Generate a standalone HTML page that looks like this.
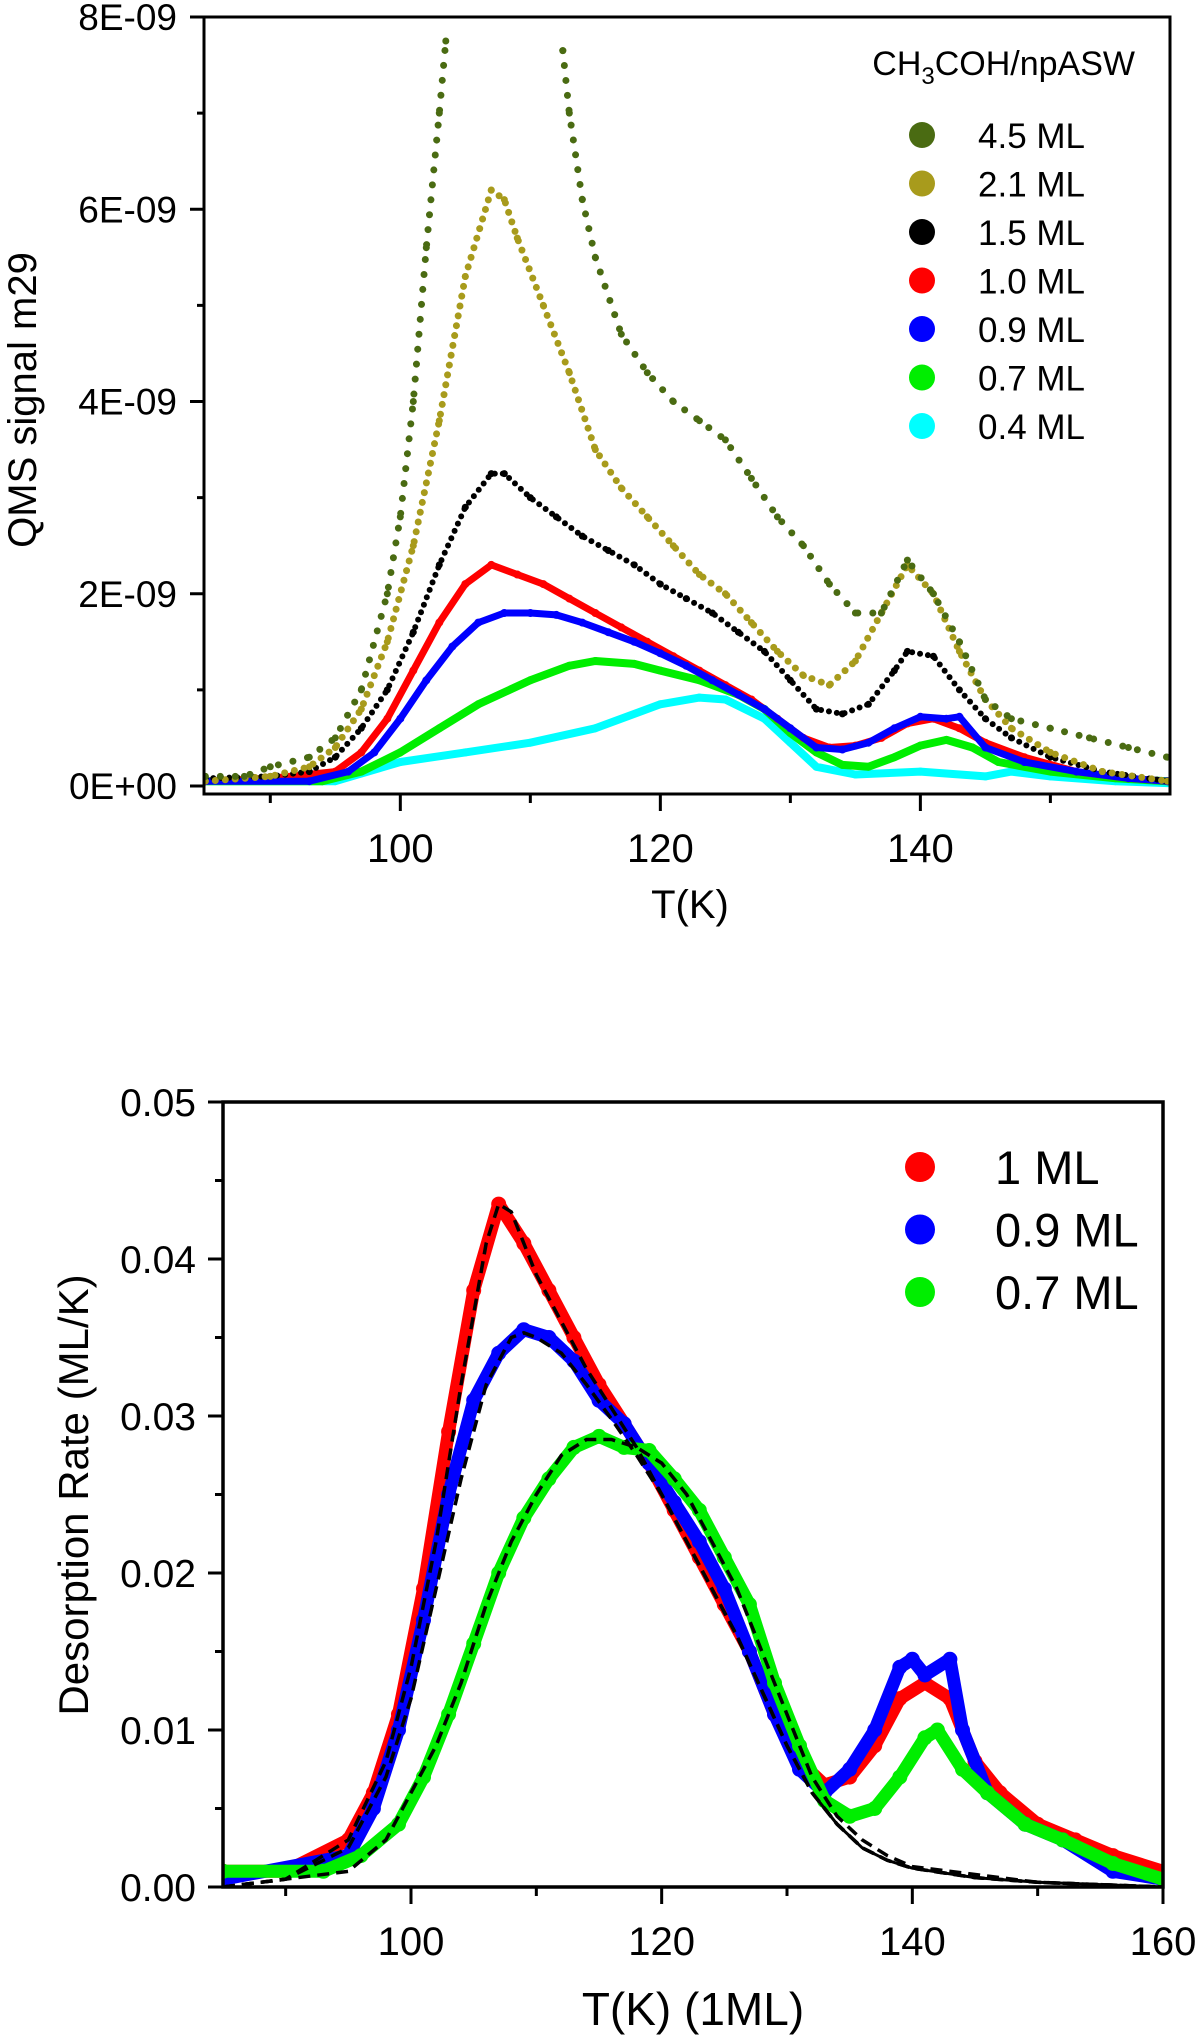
<!DOCTYPE html>
<html><head><meta charset="utf-8"><style>
html,body{margin:0;padding:0;background:#fff}
svg{display:block;font-family:"Liberation Sans",Arial,sans-serif}
</style></head><body>
<svg id="fig" width="1200" height="2036" viewBox="0 0 1200 2036">
<g id="topchart"></g>
<g id="botchart"></g>
</svg>
<script>
// ---------- TOP CHART DATA (QMS signal, units of 1E-9) ----------
const topNames = ["4.5 ML","2.1 ML","1.5 ML","1.0 ML","0.9 ML","0.7 ML","0.4 ML"];
const topColors = ["#4a6b12","#a89b1c","#000000","#ff0000","#0000ff","#00ee00","#00ffff"];
const t45 = [85,88,90,93,95,97,99,100,101,102,103,103.5];
const v45 = [0.1,0.1,0.2,0.3,0.5,1.0,2.0,2.8,4.0,5.6,7.0,7.75];
const t45b = [112.5,113,114,115,117,119,121,123,125,127,129,131,133,135,137,139,141,143,145,147,150,153,156,159];
const v45b = [7.65,7.0,6.1,5.5,4.7,4.3,4.0,3.8,3.6,3.2,2.8,2.5,2.1,1.8,1.8,2.35,2.0,1.5,0.9,0.7,0.6,0.5,0.4,0.3];
const t21 = [85,90,93,95,97,99,101,103,105,107,108,109,111,113,115,117,119,121,123,125,127,129,131,133,135,137,139,141,143,145,147,150,154,159];
const v21 = [0.05,0.1,0.2,0.4,0.8,1.5,2.5,3.8,5.3,6.2,6.1,5.7,5.0,4.3,3.5,3.1,2.8,2.5,2.2,2.0,1.7,1.4,1.15,1.05,1.3,1.8,2.3,2.0,1.4,0.9,0.6,0.35,0.15,0.05];
const t15 = [85,90,93,95,97,99,101,103,105,107,108,110,112,114,116,118,120,122,124,126,128,130,132,134,136,138,139,141,143,145,147,150,154,159];
const v15 = [0.08,0.1,0.15,0.3,0.6,1.0,1.6,2.3,2.9,3.25,3.25,3.0,2.8,2.6,2.45,2.3,2.1,1.95,1.8,1.6,1.4,1.1,0.8,0.75,0.85,1.2,1.4,1.35,1.0,0.7,0.5,0.3,0.15,0.05];
const t10 = [85,90,95,97,99,101,103,105,107,109,111,113,115,117,119,121,123,125,127,129,131,133,135,137,139,141,143,145,148,152,156,159];
const v10 = [0.05,0.08,0.15,0.35,0.7,1.2,1.7,2.1,2.3,2.2,2.1,1.95,1.8,1.65,1.5,1.35,1.2,1.05,0.9,0.7,0.5,0.4,0.42,0.5,0.65,0.7,0.6,0.45,0.3,0.15,0.08,0.05];
const t09 = [85,93,96,98,100,102,104,106,108,110,112,114,116,118,120,122,124,126,128,130,132,134,136,138,140,142,143,145,148,152,156,159];
const v09 = [0.05,0.05,0.15,0.35,0.7,1.1,1.45,1.7,1.8,1.8,1.78,1.7,1.6,1.5,1.38,1.25,1.1,0.95,0.8,0.6,0.4,0.38,0.45,0.6,0.72,0.7,0.72,0.4,0.25,0.15,0.08,0.05];
const t07 = [85,94,97,100,103,106,110,113,115,118,120,123,126,128,130,132,134,136,138,140,142,144,146,150,155,159];
const v07 = [0.05,0.05,0.15,0.35,0.6,0.85,1.1,1.25,1.3,1.27,1.2,1.1,0.95,0.8,0.55,0.35,0.22,0.2,0.3,0.42,0.48,0.4,0.25,0.15,0.08,0.05];
const t04 = [85,95,100,105,110,115,120,123,125,128,130,132,135,140,145,147,150,155,159];
const v04 = [0.05,0.05,0.25,0.35,0.45,0.6,0.85,0.92,0.9,0.7,0.45,0.2,0.12,0.15,0.1,0.15,0.1,0.05,0.03];
const topXTicks = [100,120,140];
const topYTicks = [0,2,4,6,8];
const topYLabels = ["0E+00","2E-09","4E-09","6E-09","8E-09"];

// ---------- BOTTOM CHART DATA (ML/K) ----------
const botNames = ["1 ML","0.9 ML","0.7 ML"];
const botColors = ["#ff0000","#0000ff","#00ee00"];
const b10t = [85,90,95,97,99,101,103,105,107,109,111,113,115,117,119,121,123,125,127,129,131,133,135,137,139,141,143,145,147,150,153,156,160];
const b10v = [0.001,0.001,0.003,0.006,0.011,0.019,0.029,0.038,0.0435,0.041,0.038,0.035,0.032,0.0295,0.027,0.024,0.021,0.018,0.015,0.011,0.008,0.0065,0.007,0.009,0.012,0.013,0.012,0.008,0.006,0.004,0.003,0.002,0.001];
const b09t = [85,95,97,99,101,103,105,107,109,111,113,115,117,119,121,123,125,127,129,131,133,135,137,139,140,141,143,144,146,149,152,156,160];
const b09v = [0.0005,0.002,0.005,0.01,0.017,0.025,0.031,0.034,0.0355,0.035,0.0335,0.031,0.0295,0.027,0.0245,0.022,0.019,0.015,0.011,0.0075,0.006,0.0075,0.01,0.014,0.0145,0.0135,0.0145,0.01,0.006,0.004,0.003,0.001,0.0005];
const b07t = [85,93,96,99,101,103,105,107,109,111,113,115,117,119,121,123,125,127,129,131,133,135,137,139,141,142,144,146,149,152,156,160];
const b07v = [0.001,0.001,0.002,0.004,0.007,0.011,0.0155,0.02,0.0235,0.026,0.028,0.0287,0.028,0.0278,0.026,0.024,0.021,0.018,0.013,0.009,0.0055,0.0045,0.005,0.007,0.0095,0.01,0.0075,0.006,0.004,0.003,0.0015,0.0005];
const f10t = [85,90,95,98,100,102,104,106,107,108,110,112,114,116,118,120,122,124,126,128,130,132,134,136,138,140,145,150,160];
const f10v = [0,0.0005,0.003,0.008,0.014,0.022,0.032,0.041,0.0435,0.043,0.039,0.036,0.033,0.0305,0.028,0.025,0.022,0.019,0.016,0.0125,0.009,0.006,0.004,0.0025,0.0017,0.0012,0.0006,0.0003,0];
const f09t = [85,90,95,98,100,102,104,106,108,109,110,112,114,116,118,120,122,124,126,128,130,132,134,136,138,140,145,150,160];
const f09v = [0,0.0005,0.0025,0.007,0.012,0.019,0.026,0.032,0.035,0.0353,0.035,0.034,0.032,0.0298,0.0275,0.025,0.022,0.019,0.016,0.0125,0.009,0.006,0.004,0.0025,0.0017,0.0012,0.0006,0.0003,0];
const f07t = [85,95,98,100,102,104,106,108,110,112,114,116,118,120,122,124,126,128,130,132,134,136,138,140,150,160];
const f07v = [0,0.001,0.003,0.006,0.009,0.013,0.018,0.022,0.025,0.0275,0.0285,0.0285,0.028,0.027,0.025,0.022,0.019,0.015,0.011,0.007,0.0045,0.003,0.002,0.0013,0.0003,0];
const botXTicks = [100,120,140,160];
const botYTicks = [0,0.01,0.02,0.03,0.04,0.05];

const NS="http://www.w3.org/2000/svg";
function mk(parent,tag,attrs){const e=document.createElementNS(NS,tag);for(const k in attrs)e.setAttribute(k,attrs[k]);parent.appendChild(e);return e;}

// ----- top axes -----
const TX0=204,TX1=1170,TY0=17,TY1=794;
const tXmin=84.9,tXmax=159.2,tYmax=8.0,tYzero=786;
function tx(t){return TX0+(t-tXmin)/(tXmax-tXmin)*(TX1-TX0);}
function ty(v){return tYzero-(v/tYmax)*(tYzero-TY0);}
const topG=document.getElementById('topchart');

function series(parent,ts,vs,xf,yf,color,style,name){
  const g=mk(parent,'g',{});
  
  
  const pts=ts.map((t,i)=>xf(t).toFixed(1)+','+yf(vs[i]).toFixed(1)).join(' ');
  if(style.dash){
    const l=mk(g,'polyline',{points:pts,fill:'none',stroke:color,'stroke-width':style.w,'stroke-linecap':'round','stroke-linejoin':'round','stroke-dasharray':style.dash});
    
    
  }else{
    const l=mk(g,'polyline',{points:pts,fill:'none',stroke:color,'stroke-width':style.w,'stroke-linecap':'round','stroke-linejoin':'round'});
    
    
  }
  if(style.r){
    ts.forEach((t,i)=>{
      const c=mk(g,'circle',{cx:xf(t).toFixed(1),cy:yf(vs[i]).toFixed(1),r:style.r,fill:color});
      
      
    });
  }
}
const clipT=mk(topG,'clipPath',{id:'ct'});mk(clipT,'rect',{x:TX0,y:TY0,width:TX1-TX0,height:TY1-TY0});
const td=mk(topG,'g',{'clip-path':'url(#ct)'});
series(td,t04,v04,tx,ty,topColors[6],{w:8,r:4},'series-0-4ml');
series(td,t07,v07,tx,ty,topColors[5],{w:8,r:4},'series-0-7ml');
series(td,t10,v10,tx,ty,topColors[3],{w:7,r:4},'series-1-0ml');
series(td,t09,v09,tx,ty,topColors[4],{w:7,r:4},'series-0-9ml');
series(td,t15,v15,tx,ty,topColors[2],{w:6,dash:'0 8',r:3.5},'series-1-5ml');
series(td,t21,v21,tx,ty,topColors[1],{w:7,dash:'0 10',r:3.5},'series-2-1ml');
series(td,t45,v45,tx,ty,topColors[0],{w:7,dash:'0 15',r:3.5},'series-4-5ml');
series(td,t45b,v45b,tx,ty,topColors[0],{w:7,dash:'0 15',r:3.5},'series-4-5ml-tail');

const tf=mk(topG,'path',{d:`M${TX0},${TY0}H${TX1}V${TY1}H${TX0}Z`,fill:'none',stroke:'#000','stroke-width':3});

for(let t=90;t<=150;t+=10){
  const maj=topXTicks.includes(t);
  const l=mk(topG,'line',{x1:tx(t),x2:tx(t),y1:TY1,y2:TY1+(maj?17:9),stroke:'#000','stroke-width':3});
  
}
topXTicks.forEach(t=>{
  const e=mk(topG,'text',{x:tx(t),y:862,'font-size':40,'text-anchor':'middle'});e.textContent=t;
  
});
for(let v=1;v<8;v+=2){
  const l=mk(topG,'line',{x1:TX0-7,x2:TX0,y1:ty(v),y2:ty(v),stroke:'#000','stroke-width':3});
  
}
topYTicks.forEach((v,i)=>{
  const l=mk(topG,'line',{x1:TX0-14,x2:TX0,y1:ty(v),y2:ty(v),stroke:'#000','stroke-width':3});
  
  const e=mk(topG,'text',{x:177,y:ty(v)+13,'font-size':37,'text-anchor':'end'});e.textContent=topYLabels[i];
  
});
{
const e=mk(topG,'text',{x:690,y:918,'font-size':40,'text-anchor':'middle'});e.textContent='T(K)';

const y=mk(topG,'text',{x:0,y:0,'font-size':40,'text-anchor':'middle',transform:'translate(36,400) rotate(-90)'});y.textContent='QMS signal m29';

const lt=mk(topG,'text',{x:1135,y:75,'font-size':34,'text-anchor':'end'});

const s1=mk(lt,'tspan',{});s1.textContent='CH';
const s2=mk(lt,'tspan',{'font-size':24,dy:9});s2.textContent='3';
const s3=mk(lt,'tspan',{dy:-9});s3.textContent='COH/npASW';
topNames.forEach((n,i)=>{
  const yy=135+i*48.5;
  const g=mk(topG,'g',{});
  
  mk(g,'circle',{cx:922,cy:yy,r:13,fill:topColors[i]});
  const t=mk(g,'text',{x:978,y:yy+13,'font-size':35});t.textContent=n;
});
}

// ----- bottom axes -----
const BX0=223,BX1=1163,BY0=1102,BY1=1887;
const bXmin=85,bXmax=160,bYmax=0.05;
function bx(t){return BX0+(t-bXmin)/(bXmax-bXmin)*(BX1-BX0);}
function by(v){return BY1-(v/bYmax)*(BY1-BY0);}
const botG=document.getElementById('botchart');
const clipB=mk(botG,'clipPath',{id:'cb'});mk(clipB,'rect',{x:BX0,y:BY0-10,width:BX1-BX0,height:BY1-BY0+10});
const bd=mk(botG,'g',{'clip-path':'url(#cb)'});
series(bd,b10t,b10v,bx,by,botColors[0],{w:13,r:7.5},'series-1ml');
series(bd,b09t,b09v,bx,by,botColors[1],{w:13,r:7.5},'series-0-9ml');
series(bd,b07t,b07v,bx,by,botColors[2],{w:13,r:7.5},'series-0-7ml');
function fit(ts,vs,name){
  const pts=ts.map((t,i)=>bx(t).toFixed(1)+','+by(vs[i]).toFixed(1)).join(' ');
  const l=mk(bd,'polyline',{points:pts,fill:'none',stroke:'#000','stroke-width':3.5,'stroke-dasharray':'12 7'});
  
}
fit(f10t,f10v,'fit-1ml');fit(f09t,f09v,'fit-0-9ml');fit(f07t,f07v,'fit-0-7ml');
{
const tt=f10t.filter(t=>t>=132), tv=f10v.filter((v,i)=>f10t[i]>=132);
const l=mk(bd,'polyline',{points:tt.map((t,i)=>bx(t).toFixed(1)+','+by(tv[i]).toFixed(1)).join(' '),fill:'none',stroke:'#000','stroke-width':3});

}
const bf=mk(botG,'path',{d:`M${BX0},${BY0}H${BX1}V${BY1}H${BX0}Z`,fill:'none',stroke:'#000','stroke-width':3.5});

for(let t=90;t<=160;t+=10){
  const maj=botXTicks.includes(t);
  const l=mk(botG,'line',{x1:bx(t),x2:bx(t),y1:BY1,y2:BY1+(maj?17:9),stroke:'#000','stroke-width':3});
  
}
botXTicks.forEach(t=>{
  const e=mk(botG,'text',{x:bx(t),y:1955,'font-size':40,'text-anchor':'middle'});e.textContent=t;
  
});
for(let v=0.005;v<0.05;v+=0.01){
  const l=mk(botG,'line',{x1:BX0-8,x2:BX0,y1:by(v),y2:by(v),stroke:'#000','stroke-width':3});
  
}
botYTicks.forEach(v=>{
  const l=mk(botG,'line',{x1:BX0-15,x2:BX0,y1:by(v),y2:by(v),stroke:'#000','stroke-width':3});
  
  const e=mk(botG,'text',{x:196,y:by(v)+14,'font-size':39,'text-anchor':'end'});e.textContent=v.toFixed(2);
  
});
{
const e=mk(botG,'text',{x:693,y:2025,'font-size':46,'text-anchor':'middle'});e.textContent='T(K) (1ML)';

const y=mk(botG,'text',{x:0,y:0,'font-size':42,'text-anchor':'middle',transform:'translate(88,1495) rotate(-90)'});y.textContent='Desorption Rate (ML/K)';

botNames.forEach((n,i)=>{
  const yy=1167+i*62.5;
  const g=mk(botG,'g',{});
  
  mk(g,'circle',{cx:920,cy:yy,r:15,fill:botColors[i]});
  const t=mk(g,'text',{x:995,y:yy+17,'font-size':47});t.textContent=n;
});
}
</script>
</body></html>
